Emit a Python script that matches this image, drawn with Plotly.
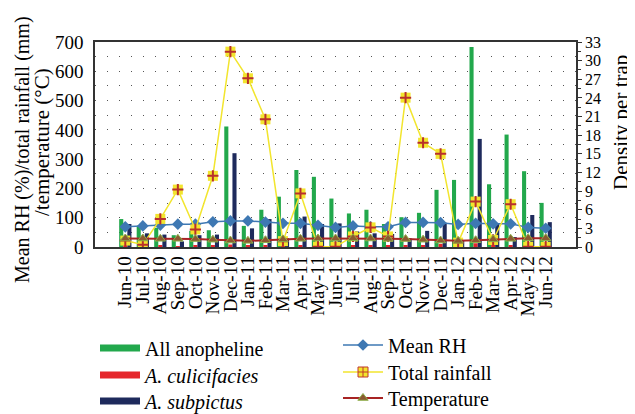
import plotly.graph_objects as go

months = ["Jun-10", "Jul-10", "Aug-10", "Sep-10", "Oct-10", "Nov-10", "Dec-10",
          "Jan-11", "Feb-11", "Mar-11", "Apr-11", "May-11", "Jun-11", "Jul-11",
          "Aug-11", "Sep-11", "Oct-11", "Nov-11", "Dec-11", "Jan-12", "Feb-12",
          "Mar-12", "Apr-12", "May-12", "Jun-12"]

all_anopheline = [4.5, 3.4, 3.1, 1.9, 2.6, 2.7, 19.4, 3.4, 6.0, 8.1, 12.4, 11.3, 7.8,
                  5.4, 6.0, 3.7, 4.8, 5.5, 9.2, 10.8, 32.2, 10.1, 18.1, 12.2, 7.1]
a_culicifacies = [0.3, 0.2, 0.2, 0.1, 0.2, 0.3, 0.4, 0.3, 0.2, 0.1, 0.3, 0.3, 0.2,
                  0.2, 0.3, 0.3, 0.2, 0.3, 0.5, 0.2, 0.6, 0.2, 0.2, 0.4, 0.2]
a_subpictus = [3.7, 2.2, 2.0, 0.9, 1.9, 2.0, 15.1, 3.0, 4.5, 1.4, 4.9, 3.7, 3.8,
               2.5, 2.2, 2.1, 1.4, 2.6, 3.9, 1.0, 17.4, 3.8, 1.6, 5.15, 4.0]

mean_rh = [69, 72, 75, 78, 78, 86, 89, 89, 85, 81, 81, 74, 67,
           72, 69, 69, 84, 84, 83, 77, 81, 79, 79, 67, 64]
total_rainfall = [22, 8, 96, 196, 60, 243, 667, 576, 436, 20, 183, 1, 1,
                  36, 67, 36, 510, 356, 318, 15, 155, 24, 146, 1, 1]
temperature = [29, 29, 28, 28, 27, 25, 22, 21, 23, 26, 28, 29, 29,
               30, 29, 28, 27, 25, 22, 21, 23, 26, 28, 30, 30]

left_ticks = [0, 100, 200, 300, 400, 500, 600, 700]
right_ticks = [0, 3, 6, 9, 12, 15, 18, 21, 24, 27, 30, 33]

FONT = "Liberation Serif"
GREEN = "#22A84C"
RED = "#E5262B"
NAVY = "#1E2A5C"
BLUE = "#3E78B3"
YELLOW = "#F2E52E"
DARKRED = "#A82424"

# the page body adds an 8px offset; size the figure to fit the 635x414 window
OFF = 8
W, H = 635 - OFF, 414 - OFF
ML, MT = 95 - OFF, 42 - OFF
MR = W - (576 - OFF)
MB = H - (247 - OFF)
PW, PH = W - ML - MR, H - MT - MB


def px(xref):
    return (xref - OFF - ML) / PW


def py(yref):
    return (H - MB - (yref - OFF)) / PH


fig = go.Figure()

# bars (density per trap, right axis = yaxis)
bar_specs = [("All anopheline", all_anopheline, GREEN, "legend"),
             ("<i>A. culicifacies</i>", a_culicifacies, RED, "legend2"),
             ("<i>A. subpictus</i>", a_subpictus, NAVY, "legend3")]
for name, vals, col, lg in bar_specs:
    fig.add_trace(go.Bar(x=months, y=vals, marker_color=col, marker_line_width=0,
                         yaxis="y", showlegend=False, name=name))
    fig.add_trace(go.Scatter(x=[None], y=[None], mode="lines", name=name,
                             line=dict(color=col, width=7), legend=lg, yaxis="y"))

# lines on left axis (yaxis2)
fig.add_trace(go.Scatter(x=months, y=mean_rh, mode="lines+markers", name="Mean RH",
                         line=dict(color=BLUE, width=1.5),
                         marker=dict(symbol="diamond", size=9, color=BLUE),
                         yaxis="y2", legend="legend4"))
fig.add_trace(go.Scatter(x=months, y=total_rainfall, mode="lines+markers",
                         name="Total rainfall", showlegend=False,
                         line=dict(color=YELLOW, width=1.5),
                         marker=dict(symbol="square", size=10, color=YELLOW),
                         yaxis="y2"))
fig.add_trace(go.Scatter(x=months, y=total_rainfall, mode="markers",
                         name="Total rainfall", showlegend=False,
                         marker=dict(symbol="cross-thin", size=8,
                                     line=dict(color="#B8312B", width=2)),
                         yaxis="y2"))
fig.add_trace(go.Scatter(x=[None], y=[None], mode="lines+markers",
                         name="Total rainfall", line=dict(color=YELLOW, width=1.5),
                         marker=dict(symbol="square-cross", size=10, color=YELLOW,
                                     line=dict(color="#C0392B", width=1)),
                         yaxis="y2", legend="legend5"))
fig.add_trace(go.Scatter(x=months, y=temperature, mode="lines+markers",
                         name="Temperature", line=dict(color=DARKRED, width=2),
                         marker=dict(symbol="triangle-up", size=9, color="#8C5A32",
                                     line=dict(color="#8DB04A", width=1)),
                         yaxis="y2", legend="legend6"))

axis_font = dict(family=FONT, size=19, color="black")
leg_font = dict(family=FONT, size=20, color="black")


def leg(xref, yref, iw):
    return dict(x=px(xref), y=py(yref), xanchor="left", yanchor="middle",
                itemwidth=iw, font=leg_font, bgcolor="rgba(0,0,0,0)")


fig.update_layout(
    width=W, height=H,
    margin=dict(l=ML, r=MR, t=MT, b=MB, autoexpand=False),
    paper_bgcolor="white", plot_bgcolor="white",
    barmode="group", bargap=0.3, bargroupgap=0,
    font=dict(family=FONT, size=19, color="black"),
    xaxis=dict(tickmode="array", tickvals=months, ticktext=months,
               tickangle=-90, tickfont=axis_font, showline=True, linecolor="#333",
               linewidth=1.5, mirror=True, ticks="", showgrid=False,
               automargin=False),
    yaxis=dict(side="right", range=[0, 33], tickvals=right_ticks,
               tickfont=dict(family=FONT, size=16, color="black"),
               ticks="outside", ticklen=4, tickcolor="#333",
               minor=dict(dtick=1.5, ticks="outside", ticklen=3, tickcolor="#333"),
               showgrid=False, showline=True, linecolor="#333", linewidth=1.5,
               zeroline=False, automargin=False),
    yaxis2=dict(side="left", overlaying="y", range=[0, 700], tickvals=left_ticks,
                tickfont=axis_font, showline=True, linecolor="#333", linewidth=1.5,
                showgrid=True, gridcolor="#555", gridwidth=1, griddash="1px,11px",
                minor=dict(dtick=50, showgrid=True, gridcolor="#555", gridwidth=1,
                           griddash="1px,11px"),
                zeroline=False, ticks="", ticklabelstandoff=6, automargin=False),
    legend=leg(95, 348, 40),
    legend2=leg(95, 375, 40),
    legend3=leg(95, 401, 40),
    legend4=leg(338, 345, 40),
    legend5=leg(338, 372, 40),
    legend6=leg(338, 398, 40),
    annotations=[
        dict(text="Mean RH (%)/total rainfall (mm)", textangle=-90,
             xref="paper", yref="paper", x=px(22), y=py(150),
             xanchor="center", yanchor="middle", showarrow=False,
             font=dict(family=FONT, size=20, color="black")),
        dict(text="/temperature (°C)", textangle=-90,
             xref="paper", yref="paper", x=px(42), y=py(142),
             xanchor="center", yanchor="middle", showarrow=False,
             font=dict(family=FONT, size=21, color="black")),
        dict(text="Density per trap", textangle=-90, xref="paper", yref="paper",
             x=px(621), y=py(123),
             xanchor="center", yanchor="middle", showarrow=False,
             font=dict(family=FONT, size=21, color="black")),
    ],
)

fig.write_html("out.html")
